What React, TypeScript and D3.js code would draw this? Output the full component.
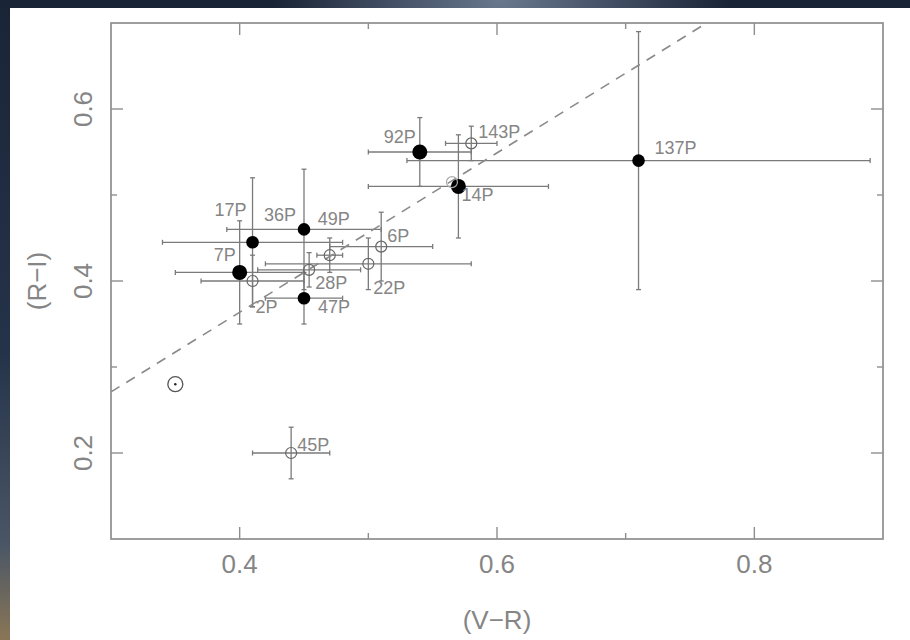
import React from "react";
import * as d3 from "d3";

// ---- data ----
const names = ["137P", "92P", "143P", "14P", "", "17P", "7P", "2P", "36P", "47P", "28P", "49P", "22P", "6P", "45P"];
const vr = [0.71, 0.54, 0.58, 0.57, 0.565, 0.41, 0.40, 0.41, 0.45, 0.45, 0.454, 0.47, 0.50, 0.51, 0.44];
const ri = [0.54, 0.55, 0.56, 0.51, 0.515, 0.445, 0.41, 0.40, 0.46, 0.38, 0.413, 0.43, 0.42, 0.44, 0.20];
const vrErr = [0.18, 0.04, 0.02, 0.07, 0, 0.07, 0.05, 0.04, 0.06, 0.03, 0.04, 0.01, 0.08, 0.04, 0.03];
const riErr = [0.15, 0.04, 0.02, 0.06, 0, 0.075, 0.06, 0.03, 0.07, 0.03, 0.02, 0.02, 0.03, 0.04, 0.03];
const filled = [true, true, false, true, false, true, true, false, true, true, false, false, false, false, false];
const big = [false, true, false, true, false, false, true, false, false, false, false, false, false, false, false];

const sunVR = 0.35;
const sunRI = 0.28;

const fitVR = [0.3, 0.763];
const fitRI = [0.271, 0.7];

const xMajor = [0.4, 0.6, 0.8];
const xMinor = [0.5, 0.7];
const yMajor = [0.2, 0.4, 0.6];
const yMinor = [0.3, 0.5];
const xTitle = "(V\u2212R)";
const yTitle = "(R\u2212I)";

// ---- styles / label placement (not data) ----
const labelStyle: Record<string, { dx: number; dy: number; anchor: string }> = {
  "137P": { dx: 16, dy: -7, anchor: "start" },
  "92P": { dx: -4, dy: -9, anchor: "end" },
  "143P": { dx: 7, dy: -5, anchor: "start" },
  "14P": { dx: 3, dy: 15, anchor: "start" },
  "17P": { dx: -6, dy: -26, anchor: "end" },
  "7P": { dx: -4, dy: -11, anchor: "end" },
  "2P": { dx: 3, dy: 32, anchor: "start" },
  "36P": { dx: -8, dy: -8, anchor: "end" },
  "47P": { dx: 14, dy: 15, anchor: "start" },
  "28P": { dx: 6, dy: 19, anchor: "start" },
  "49P": { dx: -12, dy: -30, anchor: "start" },
  "22P": { dx: 5, dy: 30, anchor: "start" },
  "6P": { dx: 6, dy: -5, anchor: "start" },
  "45P": { dx: 6, dy: -2, anchor: "start" },
};

const W = 910;
const H = 640;
const FONT = "'Liberation Sans', Arial, sans-serif";
const AXIS = "#8e8e8e";
const BAR = "#7a7a7a";
const TXT = "#858585";

export default function App() {
  const x = d3.scaleLinear().domain([0.3, 0.9]).range([111, 883]);
  const y = d3.scaleLinear().domain([0.1, 0.7]).range([539, 23]);
  const [x0, x1] = x.range();
  const [y0, y1] = y.range();
  const cap = 2.5;

  const fitLine = d3
    .line<number>()
    .x((_, i) => x(fitVR[i]))
    .y((_, i) => y(fitRI[i]));

  const idx = d3.range(names.length);

  return (
    <div style={{ position: "fixed", left: 0, top: 0 }}>
      <svg width={W} height={H} style={{ display: "block" }}>
        <defs>
          <linearGradient id="bg" x1="0" y1="0" x2="0" y2="1">
            <stop offset="0" stopColor="#1a2437" />
            <stop offset="0.55" stopColor="#25334a" />
            <stop offset="0.85" stopColor="#4a5666" />
            <stop offset="1" stopColor="#8a7656" />
          </linearGradient>
          <radialGradient id="glow" cx="0.55" cy="0" r="0.25">
            <stop offset="0" stopColor="#7d8da3" stopOpacity="0.8" />
            <stop offset="1" stopColor="#7d8da3" stopOpacity="0" />
          </radialGradient>
          <clipPath id="plot">
            <rect x={x0} y={y1} width={x1 - x0} height={y0 - y1} />
          </clipPath>
        </defs>
        <rect x={0} y={0} width={W} height={H} fill="url(#bg)" />
        <rect x={0} y={0} width={W} height={H} fill="url(#glow)" />
        <rect x={10} y={8} width={W - 10} height={H - 8} fill="#ffffff" />

        {/* error bars */}
        <g stroke={BAR} strokeWidth={1.3} fill="none">
          {idx.map((i) =>
            vrErr[i] > 0 ? (
              <g key={"h" + i}>
                <line x1={x(vr[i] - vrErr[i])} x2={x(vr[i] + vrErr[i])} y1={y(ri[i])} y2={y(ri[i])} />
                <line x1={x(vr[i] - vrErr[i])} x2={x(vr[i] - vrErr[i])} y1={y(ri[i]) - cap} y2={y(ri[i]) + cap} />
                <line x1={x(vr[i] + vrErr[i])} x2={x(vr[i] + vrErr[i])} y1={y(ri[i]) - cap} y2={y(ri[i]) + cap} />
              </g>
            ) : null
          )}
          {idx.map((i) =>
            riErr[i] > 0 ? (
              <g key={"v" + i}>
                <line x1={x(vr[i])} x2={x(vr[i])} y1={y(ri[i] - riErr[i])} y2={y(ri[i] + riErr[i])} />
                <line x1={x(vr[i]) - cap} x2={x(vr[i]) + cap} y1={y(ri[i] - riErr[i])} y2={y(ri[i] - riErr[i])} />
                <line x1={x(vr[i]) - cap} x2={x(vr[i]) + cap} y1={y(ri[i] + riErr[i])} y2={y(ri[i] + riErr[i])} />
              </g>
            ) : null
          )}
        </g>

        {/* fit line */}
        <path
          d={fitLine(fitVR) || ""}
          clipPath="url(#plot)"
          stroke="#8a8a8a"
          strokeWidth={1.6}
          strokeDasharray="10 8"
          fill="none"
        />

        {/* points */}
        {idx.map((i) =>
          filled[i] ? (
            <circle key={"p" + i} cx={x(vr[i])} cy={y(ri[i])} r={big[i] ? 7.5 : 6.3} fill="#000" />
          ) : (
            <circle
              key={"p" + i}
              cx={x(vr[i])}
              cy={y(ri[i])}
              r={5.5}
              fill="none"
              stroke={names[i] === "" ? "#aaa" : "#666"}
              strokeWidth={1.2}
            />
          )
        )}

        {/* sun symbol */}
        <circle cx={x(sunVR)} cy={y(sunRI)} r={7.5} fill="#fff" stroke="#555" strokeWidth={1.3} />
        <circle cx={x(sunVR)} cy={y(sunRI)} r={1.2} fill="#222" />

        {/* labels */}
        <g fontFamily={FONT} fontSize={18} fill={TXT}>
          {idx.map((i) => {
            const s = labelStyle[names[i]];
            if (!s) return null;
            return (
              <text key={"t" + i} x={x(vr[i]) + s.dx} y={y(ri[i]) + s.dy} textAnchor={s.anchor}>
                {names[i]}
              </text>
            );
          })}
        </g>

        {/* frame */}
        <rect x={x0} y={y1} width={x1 - x0} height={y0 - y1} fill="none" stroke={AXIS} strokeWidth={1.7} />

        {/* ticks */}
        <g stroke={AXIS} strokeWidth={1.4}>
          {xMajor.map((t) => (
            <g key={"xM" + t}>
              <line x1={x(t)} x2={x(t)} y1={y0} y2={y0 - 12} />
              <line x1={x(t)} x2={x(t)} y1={y1} y2={y1 + 12} />
            </g>
          ))}
          {xMinor.map((t) => (
            <g key={"xm" + t}>
              <line x1={x(t)} x2={x(t)} y1={y0} y2={y0 - 6} />
              <line x1={x(t)} x2={x(t)} y1={y1} y2={y1 + 6} />
            </g>
          ))}
          {yMajor.map((t) => (
            <g key={"yM" + t}>
              <line x1={x0} x2={x0 + 12} y1={y(t)} y2={y(t)} />
              <line x1={x1} x2={x1 - 12} y1={y(t)} y2={y(t)} />
            </g>
          ))}
          {yMinor.map((t) => (
            <g key={"ym" + t}>
              <line x1={x0} x2={x0 + 6} y1={y(t)} y2={y(t)} />
              <line x1={x1} x2={x1 - 6} y1={y(t)} y2={y(t)} />
            </g>
          ))}
        </g>

        {/* tick labels */}
        <g fontFamily={FONT} fontSize={26} fill={TXT} textAnchor="middle">
          {xMajor.map((t) => (
            <text key={"xl" + t} x={x(t)} y={573}>
              {d3.format(".1f")(t)}
            </text>
          ))}
          {yMajor.map((t) => (
            <text key={"yl" + t} transform={`translate(92,${y(t)}) rotate(-90)`}>
              {d3.format(".1f")(t)}
            </text>
          ))}
          <text x={(x0 + x1) / 2} y={629}>
            {xTitle}
          </text>
          <text transform={`translate(46,${(y0 + y1) / 2}) rotate(-90)`}>{yTitle}</text>
        </g>
      </svg>
    </div>
  );
}
